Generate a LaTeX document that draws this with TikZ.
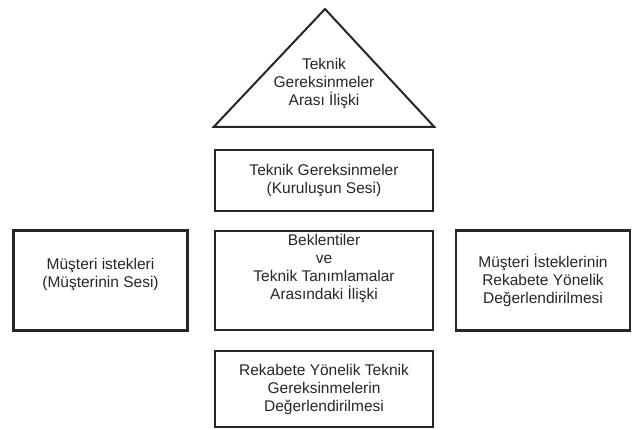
\documentclass[tikz,border=0pt]{standalone}
\usepackage{fontspec}
\setmainfont{Liberation Sans}
\usepackage{tikz}
\usetikzlibrary{positioning}
\tikzset{
  % Common styles for the diagram
  box/.style={draw=black!85, rectangle, line width=2.4pt, align=center, text=black!85},
  txt/.style={align=center, text=black!85}
}

\begin{document}
\begin{tikzpicture}[x=1pt, y=-1pt, font=\fontsize{15.5}{18}\selectfont]
    \useasboundingbox (0,0) rectangle (637,429);
    % Define sizes
    \tikzstyle{wide} = [box, minimum width=218pt]
    \tikzstyle{side} = [box, minimum width=174pt, minimum height=100pt]

    % Place nodes - centre column
    \node [wide, minimum height=99pt, label={[txt, yshift=12pt]center:Beklentiler\\ve\\Teknik Tanımlamalar\\Arasındaki İlişki}] (midbox) at (324,280.5) {};
    \node [wide, minimum height=61pt, above of=midbox, node distance=100pt] (topbox) {Teknik Gereksinmeler\\(Kuruluşun Sesi)};
    \node [wide, minimum height=76pt, below of=midbox, node distance=108.5pt] (botbox) {Rekabete Yönelik Teknik\\Gereksinmelerin\\Değerlendirilmesi};

    % Place nodes - side boxes
    \node [side, left of=midbox, node distance=223.5pt, label={[txt, yshift=6pt]center:Müşteri istekleri\\(Müşterinin Sesi)}] (leftbox) {};
    \node [side, right of=midbox, node distance=219pt] (rightbox) {Müşteri İsteklerinin\\Rekabete Yönelik\\Değerlendirilmesi};

    % Roof triangle
    \coordinate (roofl) at ([yshift=22pt]topbox.north west);
    \coordinate (roofr) at ([yshift=22pt]topbox.north east);
    \coordinate (apex) at (325,9);
    \draw [draw=black!85, line width=2pt, line join=miter] (roofl) -- (apex) -- (roofr) -- cycle;
    \node [txt] (rooftext) at (324,84) {Teknik\\Gereksinmeler\\Arası İlişki};
\end{tikzpicture}
\end{document}
